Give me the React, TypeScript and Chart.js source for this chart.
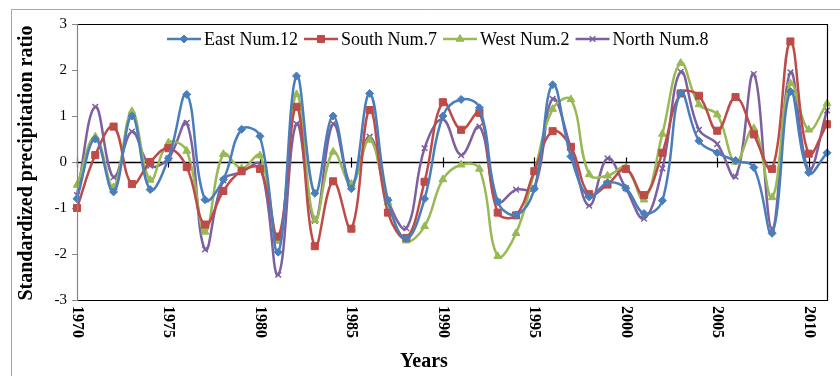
import React, { useEffect, useRef } from 'react';
import { Chart, registerables } from 'chart.js';
import { drawPoint } from 'chart.js/helpers';

Chart.register(...registerables);

const YEARS = [
  '1970', '1971', '1972', '1973', '1974', '1975', '1976', '1977', '1978', '1979',
  '1980', '1981', '1982', '1983', '1984', '1985', '1986', '1987', '1988', '1989',
  '1990', '1991', '1992', '1993', '1994', '1995', '1996', '1997', '1998', '1999',
  '2000', '2001', '2002', '2003', '2004', '2005', '2006', '2007', '2008', '2009',
  '2010', '2011',
];

const X_TICK_LABELS = ['1970', '1975', '1980', '1985', '1990', '1995', '2000', '2005', '2010'];

const EAST = [
  -0.8, 0.5, -0.65, 1.0, -0.6, 0.08, 1.47, -0.82, -0.38, 0.71,
  0.56, -1.96, 1.87, -0.68, 1.0, -0.58, 1.49, -0.83, -1.67, -0.8,
  1.0, 1.36, 1.18, -0.86, -1.15, -0.58, 1.68, 0.12, -0.76, -0.45,
  -0.57, -1.12, -0.84, 1.5, 0.46, 0.2, 0.03, -0.12, -1.55, 1.53,
  -0.23, 0.2,
];

const SOUTH = [
  -1.0, 0.15, 0.77, -0.48, 0.0, 0.3, -0.11, -1.36, -0.63, -0.2,
  -0.15, -1.62, 1.2, -1.83, -0.42, -1.45, 1.13, -1.1, -1.65, -0.43,
  1.3, 0.7, 1.07, -1.1, -1.16, -0.2, 0.67, 0.33, -0.7, -0.49,
  -0.15, -0.72, 0.2, 1.49, 1.44, 0.68, 1.41, 0.6, -0.15, 2.62,
  0.18, 0.82,
];

const WEST = [
  -0.5, 0.55, -0.55, 1.1, -0.39, 0.42, 0.24, -1.52, 0.17, -0.14,
  0.14, -1.72, 1.47, -1.26, 0.22, -0.48, 0.48, -0.88, -1.71, -1.4,
  -0.38, -0.06, -0.15, -2.05, -1.55, -0.22, 1.15, 1.36, -0.27, -0.3,
  -0.12, -0.82, 0.61, 2.15, 1.25, 1.03, 0.0, 0.73, -0.77, 1.71,
  0.7, 1.27,
];

const NORTH = [
  -0.72, 1.2, -0.33, 0.66, -0.08, 0.08, 0.85, -1.9, -0.4, -0.22,
  -0.06, -2.45, 0.83, -1.28, 0.83, -0.48, 0.55, -0.83, -1.44, 0.3,
  0.93, 0.15, 0.77, -0.86, -0.6, -0.57, 1.37, 0.3, -0.95, 0.08,
  -0.57, -1.23, -0.14, 1.96, 0.7, 0.39, -0.32, 1.91, -1.45, 1.95,
  -0.17, 1.12,
];

const SERIES_NAMES = ['East Num.12', 'South Num.7', 'West Num.2', 'North Num.8'];
const X_TITLE = 'Years';
const Y_TITLE = 'Standardized precipitation ratio';

const SERIF = '"Liberation Serif", "Times New Roman", serif';

const STYLES = [
  { color: '#4A7EBB', pointStyle: 'rectRot', radius: 4, borderWidth: 1 },
  { color: '#BE4B48', pointStyle: 'rect', radius: 5, borderWidth: 1 },
  { color: '#98B954', pointStyle: 'triangle', radius: 4.5, borderWidth: 1 },
  { color: '#7D60A0', pointStyle: 'crossRot', radius: 4, borderWidth: 1.5 },
];

const decorPlugin = {
  id: 'decor',
  beforeDatasetsDraw(chart: any) {
    const { ctx, chartArea: a, scales } = chart;
    const x = scales.x;
    const y = scales.y;
    ctx.save();
    const y0 = Math.round(y.getPixelForValue(0)) + 0.5;
    ctx.strokeStyle = '#000';
    ctx.lineWidth = 1.5;
    ctx.beginPath();
    ctx.moveTo(a.left, y0);
    ctx.lineTo(a.right, y0);
    ctx.stroke();
    ctx.lineWidth = 1.2;
    ctx.beginPath();
    for (const lab of X_TICK_LABELS) {
      const px = Math.round(x.getPixelForValue(YEARS.indexOf(lab))) + 0.5;
      ctx.moveTo(px, y0 - 5);
      ctx.lineTo(px, y0 + 5);
    }
    ctx.stroke();
    ctx.restore();
  },
  afterDraw(chart: any) {
    const { ctx, chartArea: a, scales } = chart;
    const x = scales.x;
    ctx.save();

    // outer chart frame
    ctx.strokeStyle = '#a6a6a6';
    ctx.lineWidth = 1;
    ctx.beginPath();
    ctx.moveTo(11.5, 380);
    ctx.lineTo(11.5, 9.5);
    ctx.lineTo(845, 9.5);
    ctx.stroke();

    // plot border
    ctx.strokeStyle = '#000';
    ctx.lineWidth = 1.2;
    ctx.beginPath();
    ctx.moveTo(a.left, a.top + 0.5);
    ctx.lineTo(a.right + 0.5, a.top + 0.5);
    ctx.lineTo(a.right + 0.5, a.bottom + 0.5);
    ctx.lineTo(a.left, a.bottom + 0.5);
    ctx.stroke();
    ctx.strokeStyle = '#868686';
    ctx.beginPath();
    ctx.moveTo(a.left + 0.5, a.top);
    ctx.lineTo(a.left + 0.5, a.bottom + 1);
    ctx.stroke();

    // x tick labels, rotated clockwise
    ctx.fillStyle = '#000';
    ctx.font = `bold 16px ${SERIF}`;
    ctx.textAlign = 'left';
    ctx.textBaseline = 'middle';
    for (const lab of X_TICK_LABELS) {
      const px = x.getPixelForValue(YEARS.indexOf(lab));
      ctx.save();
      ctx.translate(px, a.bottom + 6);
      ctx.rotate(Math.PI / 2);
      ctx.fillText(lab, 0, 0);
      ctx.restore();
    }

    // axis titles
    ctx.font = `bold 20px ${SERIF}`;
    ctx.textAlign = 'center';
    ctx.textBaseline = 'middle';
    ctx.fillText(X_TITLE, 424, 362);
    ctx.save();
    ctx.translate(27, 163);
    ctx.rotate(-Math.PI / 2);
    ctx.fillText(Y_TITLE, 0, 0);
    ctx.restore();

    // legend
    ctx.font = `18px ${SERIF}`;
    ctx.textAlign = 'left';
    ctx.textBaseline = 'middle';
    let lx = 167;
    const ly = 39;
    chart.data.datasets.forEach((ds: any, i: number) => {
      const st = STYLES[i];
      ctx.strokeStyle = st.color;
      ctx.lineWidth = 2.5;
      ctx.beginPath();
      ctx.moveTo(lx, ly);
      ctx.lineTo(lx + 34, ly);
      ctx.stroke();
      ctx.fillStyle = st.color;
      ctx.strokeStyle = st.color;
      ctx.lineWidth = st.borderWidth;
      drawPoint(ctx, { pointStyle: st.pointStyle, radius: st.radius, rotation: 0, borderWidth: st.borderWidth } as any, lx + 17, ly);
      ctx.fillStyle = '#000';
      ctx.fillText(ds.label, lx + 37, ly + 1);
      lx += 37 + ctx.measureText(ds.label).width + 6;
    });

    ctx.restore();
  },
};

export default function App() {
  const canvasRef = useRef<HTMLCanvasElement | null>(null);

  useEffect(() => {
    if (!canvasRef.current) return;
    const seriesData = [EAST, SOUTH, WEST, NORTH];
    const chart = new Chart(canvasRef.current, {
      type: 'line',
      data: {
        labels: YEARS,
        datasets: seriesData.map((d, i) => ({
          label: SERIES_NAMES[i],
          data: d,
          borderColor: STYLES[i].color,
          backgroundColor: STYLES[i].color,
          pointBackgroundColor: STYLES[i].color,
          pointBorderColor: STYLES[i].color,
          pointStyle: STYLES[i].pointStyle as any,
          pointRadius: STYLES[i].radius,
          pointBorderWidth: STYLES[i].borderWidth,
          borderWidth: 2.5,
          tension: 0.4,
          fill: false,
        })),
      },
      options: {
        animation: false,
        responsive: true,
        maintainAspectRatio: false,
        layout: { padding: { left: 0, right: 13, top: 24, bottom: 0 } },
        plugins: {
          legend: { display: false },
          tooltip: { enabled: false },
          title: { display: false },
        },
        scales: {
          x: {
            type: 'category',
            offset: false,
            grid: { display: false },
            border: { display: false },
            ticks: { display: false },
            afterFit(scale: any) {
              scale.height = 76;
            },
          },
          y: {
            min: -3,
            max: 3,
            ticks: {
              stepSize: 1,
              color: '#000',
              padding: 5,
              font: { family: SERIF, size: 15 },
            },
            grid: {
              display: true,
              drawOnChartArea: false,
              drawTicks: true,
              tickLength: 5,
              color: '#868686',
            },
            border: { display: false },
            afterFit(scale: any) {
              scale.width = 77;
            },
          },
        },
      },
      plugins: [decorPlugin],
    });
    return () => chart.destroy();
  }, []);

  return (
    <div style={{ position: 'fixed', left: 0, top: 0, width: 840, height: 376, background: '#fff' }}>
      <canvas ref={canvasRef} />
    </div>
  );
}
